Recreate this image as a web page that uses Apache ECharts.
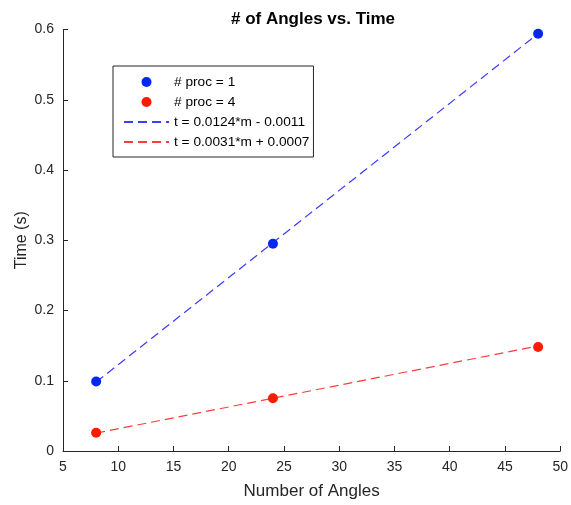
<!DOCTYPE html>
<html><head><meta charset="utf-8">
<script src="https://cdn.jsdelivr.net/npm/echarts@6/dist/echarts.min.js"></script>
<style>html,body{margin:0;padding:0;background:#fff}#c{width:571px;height:505px}</style>
</head><body><div id="c"></div>
<script>
const angles = [8, 24, 48];
const proc1 = [0.099, 0.295, 0.594];
const proc4 = [0.026, 0.075, 0.148];
const fitX = [8, 48];
const fit1 = [0.0981, 0.5941];
const fit4 = [0.0255, 0.1495];
const xTicks = [5, 10, 15, 20, 25, 30, 35, 40, 45, 50];
const yTicks = [0, 0.1, 0.2, 0.3, 0.4, 0.5, 0.6];
const names = ['# proc = 1', '# proc = 4', 't = 0.0124*m - 0.0011', 't = 0.0031*m + 0.0007'];

const font = 'Liberation Sans, Arial, Helvetica, sans-serif';
const axisColor = '#262626';
const pair = (xs, ys) => xs.map((x, i) => [x, ys[i]]);

const chart = echarts.init(document.getElementById('c'), null, {renderer: 'canvas'});
chart.setOption({
  animation: false,
  backgroundColor: '#fff',
  title: {
    text: '# of Angles vs. Time', left: 308, top: 6, textAlign: 'center',
    textStyle: {fontFamily: font, fontSize: 17, fontWeight: 'bold', color: '#000'}
  },
  grid: {left: 63, right: 7, top: 29.5, bottom: 53, containLabel: false},
  legend: {
    left: 113, top: 66, orient: 'vertical',
    backgroundColor: '#fff', borderColor: '#262626', borderWidth: 1,
    padding: [8, 4, 7, 10],
    itemWidth: 45, itemHeight: 10, itemGap: 4,
    textStyle: {fontFamily: font, fontSize: 13.7, lineHeight: 16, color: '#000'},
    data: [
      {name: names[0], icon: 'circle'},
      {name: names[1], icon: 'circle'},
      {name: names[2], itemStyle: {opacity: 0}},
      {name: names[3], itemStyle: {opacity: 0}}
    ]
  },
  xAxis: {
    type: 'value', min: xTicks[0], max: xTicks[xTicks.length - 1], interval: 5,
    name: 'Number of Angles', nameLocation: 'middle', nameGap: 32, nameMoveOverlap: false,
    nameTextStyle: {fontFamily: font, fontSize: 17, color: axisColor},
    axisLine: {show: true, lineStyle: {color: axisColor, width: 1}},
    axisTick: {show: true, inside: true, length: 5, lineStyle: {color: axisColor}},
    axisLabel: {fontFamily: font, fontSize: 14, color: axisColor, margin: 9},
    splitLine: {show: false}
  },
  yAxis: {
    type: 'value', min: yTicks[0], max: yTicks[yTicks.length - 1], interval: 0.1,
    name: 'Time (s)', nameLocation: 'middle', nameGap: 33, nameRotate: 90, nameMoveOverlap: false,
    nameTextStyle: {fontFamily: font, fontSize: 16, color: axisColor},
    axisLine: {show: true, lineStyle: {color: axisColor, width: 1}},
    axisTick: {show: true, inside: true, length: 5, lineStyle: {color: axisColor}},
    axisLabel: {fontFamily: font, fontSize: 14, color: axisColor, margin: 9},
    splitLine: {show: false}
  },
  series: [
    {
      name: names[2], type: 'line', data: pair(fitX, fit1), showSymbol: false, symbol: 'none',
      lineStyle: {color: '#3c3cff', width: 1.2, type: [9, 5]}, itemStyle: {color: '#3c3cff'}, z: 2
    },
    {
      name: names[3], type: 'line', data: pair(fitX, fit4), showSymbol: false, symbol: 'none',
      lineStyle: {color: '#ff3c3c', width: 1.2, type: [9, 5]}, itemStyle: {color: '#ff3c3c'}, z: 2
    },
    {
      name: names[0], type: 'scatter', data: pair(angles, proc1), symbol: 'circle', symbolSize: 10,
      itemStyle: {color: '#0028f0', opacity: 1}, z: 3
    },
    {
      name: names[1], type: 'scatter', data: pair(angles, proc4), symbol: 'circle', symbolSize: 10,
      itemStyle: {color: '#ff1a00', opacity: 1}, z: 3
    }
  ]
});
</script></body></html>
